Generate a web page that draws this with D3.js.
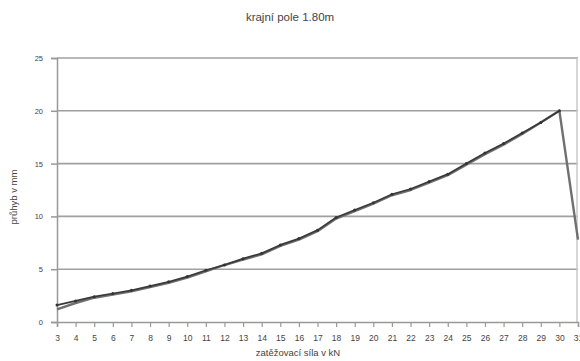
<!DOCTYPE html>
<html>
<head>
<meta charset="utf-8">
<script src="https://cdn.jsdelivr.net/npm/d3@7"></script>
<style>
  html, body { margin: 0; padding: 0; background: #fff; }
  svg { display: block; }
  text { font-family: "Liberation Sans", Arial, sans-serif; fill: #444; }
</style>
</head>
<body>
<svg id="chart" width="580" height="361"></svg>
<script>
// Load steps (kN) along the x axis
const loads = [3,4,5,6,7,8,9,10,11,12,13,14,15,16,17,18,19,20,21,22,23,24,25,26,27,28,29,30,31];
// Deflection readings (mm), full run including the last step
const deflectionA = [1.2,1.8,2.3,2.6,2.9,3.3,3.7,4.2,4.8,5.4,5.9,6.4,7.2,7.8,8.6,9.8,10.5,11.2,12.0,12.5,13.2,13.9,14.9,15.9,16.8,17.8,18.9,20.0,7.8];
// Second reading set, up to the peak
const deflectionB = [1.6,2.0,2.4,2.7,3.0,3.4,3.8,4.3,4.9,5.4,6.0,6.5,7.3,7.9,8.7,9.9,10.6,11.3,12.1,12.6,13.3,14.0,15.0,16.0,16.9,17.9,18.9,20.0];
const yTicks = [0,5,10,15,20,25];

const title = "krajní pole 1.80m";
const xTitle = "zatěžovací síla v kN";
const yTitle = "průhyb v mm";

const svg = d3.select("#chart");
const m = { left: 57, right: 2, top: 58, bottom: 39 };
const W = 580, H = 361;

const x = d3.scalePoint().domain(loads).range([m.left, W - m.right]);
const y = d3.scaleLinear().domain([0, 25]).range([H - m.bottom, m.top]);

// horizontal gridlines
svg.append("g").selectAll("line").data(yTicks.filter(d => d > 0)).join("line")
  .attr("x1", m.left).attr("x2", W - m.right)
  .attr("y1", d => y(d)).attr("y2", d => y(d))
  .attr("stroke", "#a0a0a0").attr("stroke-width", 1.6);

// right border of the plot area
svg.append("line")
  .attr("x1", W - m.right - 1).attr("x2", W - m.right - 1)
  .attr("y1", y(25)).attr("y2", y(0))
  .attr("stroke", "#c8c8c8").attr("stroke-width", 1.5);

// y axis
const yAxis = svg.append("g").attr("transform", `translate(${m.left},0)`)
  .call(d3.axisLeft(y).tickValues(yTicks).tickSize(6).tickPadding(8));
yAxis.select(".domain").attr("stroke", "#999").attr("stroke-width", 1.5);
yAxis.selectAll(".tick line").attr("stroke", "#999").attr("stroke-width", 1.5);
yAxis.selectAll(".tick text").attr("font-size", 7.5).attr("fill", "#555")
  .style("font-family", "Liberation Sans, Arial, sans-serif");

// x axis
const xAxis = svg.append("g").attr("transform", `translate(0,${y(0)})`)
  .call(d3.axisBottom(x).tickSize(5).tickPadding(8));
xAxis.select(".domain").attr("stroke", "#999").attr("stroke-width", 1.5);
xAxis.selectAll(".tick line").attr("stroke", "#999").attr("stroke-width", 1.2);
xAxis.selectAll(".tick text").attr("font-size", 8.5).attr("fill", "#555")
  .style("font-family", "Liberation Sans, Arial, sans-serif");

// deflection lines
const line = d3.line().x((d, i) => x(loads[i])).y(d => y(d));
svg.append("path").datum(deflectionA)
  .attr("d", line).attr("fill", "none")
  .attr("stroke", "#707070").attr("stroke-width", 2.4).attr("stroke-linejoin", "round");
svg.append("path").datum(deflectionB)
  .attr("d", line).attr("fill", "none")
  .attr("stroke", "#3a3a3a").attr("stroke-width", 1.7).attr("stroke-linejoin", "round");
svg.append("g").selectAll("circle").data(deflectionB).join("circle")
  .attr("cx", (d, i) => x(loads[i])).attr("cy", d => y(d))
  .attr("r", 1.5).attr("fill", "#333");

// titles
svg.append("text").attr("x", 290).attr("y", 21).attr("text-anchor", "middle")
  .attr("font-size", 11.5).attr("fill", "#555").text(title);
svg.append("text").attr("x", 298).attr("y", 356).attr("text-anchor", "middle")
  .attr("font-size", 9.5).attr("fill", "#555").text(xTitle);
svg.append("text")
  .attr("transform", `translate(17,${197}) rotate(-90)`)
  .attr("text-anchor", "middle").attr("font-size", 9.5).attr("fill", "#555").text(yTitle);
</script>
</body>
</html>
